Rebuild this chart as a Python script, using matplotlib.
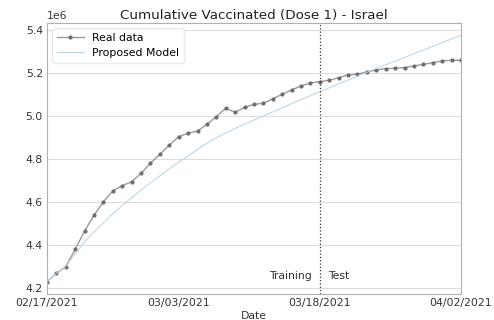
import numpy as np
import pandas as pd
import matplotlib
matplotlib.use("Agg")
import matplotlib.pyplot as plt

start_date = "2021-02-17"
split_date = "2021-03-18"
tick_dates = ["2021-02-17", "2021-03-03", "2021-03-18", "2021-04-02"]
tick_labels = ["02/17/2021", "03/03/2021", "03/18/2021", "04/02/2021"]

# cumulative first-dose vaccinations (millions)
real_data = [
    4.229, 4.268, 4.299, 4.380, 4.465, 4.538, 4.601, 4.651, 4.676, 4.694,
    4.733, 4.780, 4.822, 4.864, 4.904, 4.920, 4.930, 4.961, 4.997, 5.036,
    5.017, 5.040, 5.054, 5.059, 5.080, 5.101, 5.121, 5.140, 5.153, 5.160,
    5.166, 5.178, 5.191, 5.194, 5.205, 5.214, 5.220, 5.222, 5.225, 5.233,
    5.240, 5.248, 5.256, 5.259, 5.259,
]
model_data = [
    4.229, 4.268, 4.300, 4.360, 4.415, 4.460, 4.503, 4.545, 4.584, 4.620,
    4.655, 4.689, 4.722, 4.754, 4.785, 4.814, 4.845, 4.873, 4.899, 4.921,
    4.942, 4.962, 4.981, 5.000, 5.019, 5.038, 5.057, 5.076, 5.095, 5.113,
    5.131, 5.149, 5.167, 5.185, 5.203, 5.221, 5.238, 5.255, 5.272, 5.290,
    5.307, 5.324, 5.341, 5.358, 5.375,
]

dates = pd.date_range(start_date, periods=len(real_data), freq="D")
real = np.array(real_data) * 1e6
model = np.array(model_data) * 1e6

fig = plt.figure(figsize=(4.94, 3.2), dpi=100)
ax = fig.add_axes([0.0951, 0.0813, 0.8381, 0.8467])

ax.plot(dates, real, color="#9a9a9a", marker=".", markersize=4,
        markerfacecolor="#6e6e6e", markeredgecolor="#6e6e6e",
        linewidth=1.0, label="Real data")
ax.plot(dates, model, color="#b7d2e4", linewidth=0.7, label="Proposed Model")

split = pd.Timestamp(split_date)
ax.axvline(split, color="#333333", linestyle=":", linewidth=0.9)
ax.text(split - pd.Timedelta(hours=20), 4.256e6, "Training", ha="right",
        va="center", fontsize=7.8, color="#333333")
ax.text(split + pd.Timedelta(hours=20), 4.256e6, "Test", ha="left",
        va="center", fontsize=7.8, color="#333333")

ax.set_xlim(dates[0], dates[-1])
ax.set_xticks([pd.Timestamp(d) for d in tick_dates])
ax.set_xticklabels(tick_labels)
ax.set_yticks(np.arange(4.2, 5.41, 0.2) * 1e6)

ax.grid(axis="y", color="#dddddd", linewidth=0.8)
ax.set_axisbelow(True)
for s in ax.spines.values():
    s.set_color("#b0b0b0")
    s.set_linewidth(0.8)
ax.tick_params(axis="both", length=0, labelsize=7.8, colors="#333333", pad=3)
ax.yaxis.get_offset_text().set_fontsize(7.8)

ax.set_xlabel("Date", fontsize=7.8, labelpad=2, color="#333333")
ax.set_title("Cumulative Vaccinated (Dose 1) - Israel", fontsize=9.7, pad=3,
             color="#222222")
ax.legend(loc="upper left", fontsize=7.8, frameon=True, framealpha=0.8,
          edgecolor="#e5e5e5", handlelength=2.5)

fig.savefig("out.png", dpi=100)
